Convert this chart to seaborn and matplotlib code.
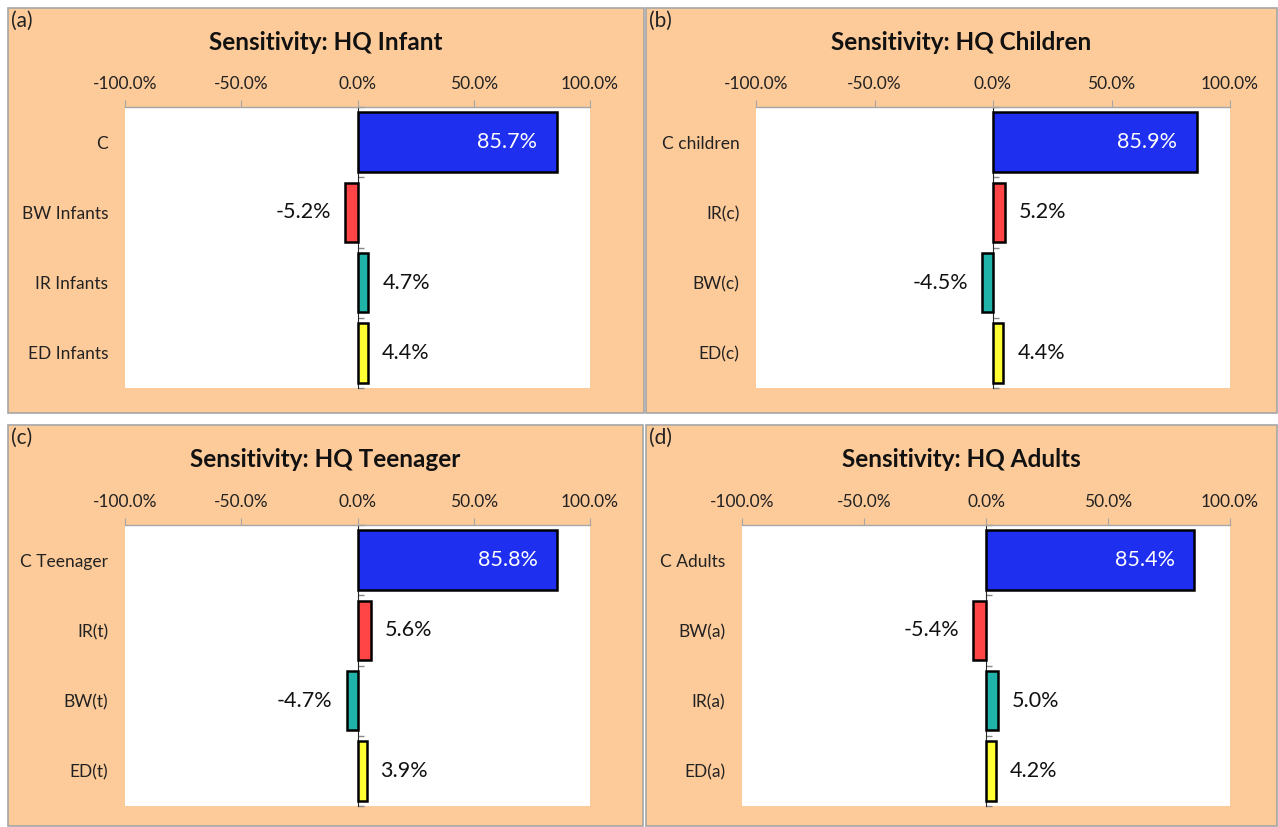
import numpy as np
import pandas as pd
import seaborn as sns
import matplotlib.pyplot as plt
from matplotlib.patches import Rectangle

# ------------------------------------------------------------------
# Datos de sensibilidad
cats_a = ['C', 'BW Infants', 'IR Infants', 'ED Infants']
vals_a = [85.7, -5.2, 4.7, 4.4]

cats_b = ['C children', 'IR(c)', 'BW(c)', 'ED(c)']
vals_b = [85.9, 5.2, -4.5, 4.4]

cats_c = ['C Teenager', 'IR(t)', 'BW(t)', 'ED(t)']
vals_c = [85.8, 5.6, -4.7, 3.9]

cats_d = ['C Adults', 'BW(a)', 'IR(a)', 'ED(a)']
vals_d = [85.4, -5.4, 5.0, 4.2]

titles = ['Sensitivity: HQ Infant', 'Sensitivity: HQ Children',
          'Sensitivity: HQ Teenager', 'Sensitivity: HQ Adults']
letters = ['(a)', '(b)', '(c)', '(d)']
xticks = [-100, -50, 0, 50, 100]
colores = ['#1f2ff0', '#ff4545', '#1fb3aa', '#ffff33']
# ------------------------------------------------------------------

sns.set_style('white')
plt.rcParams['font.family'] = ['Lato', 'DejaVu Sans']

W, H = 1278, 827
fig = plt.figure(figsize=(W / 100, H / 100), dpi=100)
fig.patch.set_facecolor('white')

peach = '#fdca99'
borde = '#a6a6a6'

# paneles de fondo (x0, y0, x1, y1 en píxeles desde arriba)
paneles = [(8, 8, 644, 413), (646, 8, 1277, 413),
           (8, 425, 643, 826), (646, 425, 1277, 826)]
# áreas de gráfico (x0, y0, x1, y1 en píxeles)
areas = [(125, 107, 590, 388), (756, 107, 1230, 388),
         (125, 525, 590, 806), (742, 525, 1230, 806)]

datos = [(cats_a, vals_a), (cats_b, vals_b), (cats_c, vals_c), (cats_d, vals_d)]

for i in range(4):
    px0, py0, px1, py1 = paneles[i]
    fig.add_artist(Rectangle((px0 / W, 1 - py1 / H), (px1 - px0) / W, (py1 - py0) / H,
                             transform=fig.transFigure, facecolor=peach,
                             edgecolor=borde, linewidth=1.2, zorder=0))
    fig.text((px0 + 3) / W, 1 - (py0 + 13) / H, letters[i], fontsize=15,
             va='center', ha='left', color='#222222')
    fig.text((px0 + px1) / 2 / W, 1 - (py0 + 35) / H, titles[i], fontsize=17.5,
             fontweight='bold', ha='center', va='center', color='#111111')

    x0, y0, x1, y1 = areas[i]
    ax = fig.add_axes([x0 / W, 1 - y1 / H, (x1 - x0) / W, (y1 - y0) / H])
    ax.set_facecolor('white')

    cats, vals = datos[i]
    df = pd.DataFrame({'cat': cats, 'val': vals})
    sns.barplot(data=df, x='val', y='cat', hue='cat', palette=colores, orient='h',
                width=0.85, saturation=1, edgecolor='black', linewidth=1.8,
                legend=False, ax=ax)

    ax.set_xlim(-100, 100)
    ax.set_ylim(len(cats) - 0.5, -0.5)
    ax.set_xticks(xticks)
    ax.set_xticklabels([f'{t:.1f}%' for t in xticks])
    ax.xaxis.tick_top()
    ax.tick_params(axis='x', length=5, color=borde, pad=6, labelsize=12.5,
                   labelcolor='#222222')
    ax.tick_params(axis='y', length=0, pad=12, labelsize=12.5, labelcolor='#222222')
    ax.set_xlabel('')
    ax.set_ylabel('')
    for s in ['left', 'right', 'bottom']:
        ax.spines[s].set_visible(False)
    ax.spines['top'].set_color(borde)
    ax.spines['top'].set_linewidth(1)

    # eje vertical en 0 con marcas entre categorías
    sec = ax.secondary_yaxis(0.5)
    sec.set_yticks(np.arange(len(cats) + 1) - 0.5)
    sec.set_yticklabels([])
    sec.tick_params(length=4, color='#888888', width=1)
    sec.spines['left'].set_color('#888888')
    sec.spines['left'].set_linewidth(1)

    # etiquetas de valores
    for j, v in enumerate(vals):
        txt = f'{v:.1f}%'
        if v > 50:
            ax.annotate(txt, (v, j), xytext=(-14, 0), textcoords='offset points',
                        ha='right', va='center', color='white', fontsize=15.5)
        elif v >= 0:
            ax.annotate(txt, (v, j), xytext=(10, 0), textcoords='offset points',
                        ha='left', va='center', color='#111111', fontsize=15.5)
        else:
            ax.annotate(txt, (v, j), xytext=(-10, 0), textcoords='offset points',
                        ha='right', va='center', color='#111111', fontsize=15.5)

plt.savefig('out.png', dpi=100)
